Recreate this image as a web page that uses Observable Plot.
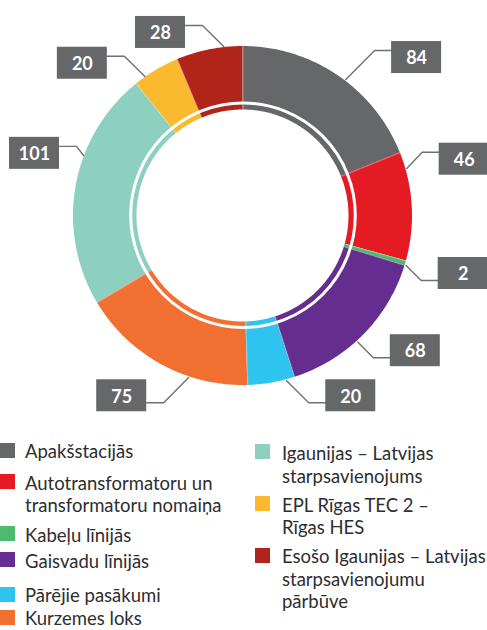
<!DOCTYPE html>
<html><head><meta charset="utf-8">
<script src="https://cdn.jsdelivr.net/npm/d3@7"></script>
<script src="https://cdn.jsdelivr.net/npm/@observablehq/plot@0.6"></script>
<style>
body{margin:0;background:#fff;}
#wrap{position:relative;width:487px;height:630px;overflow:hidden;font-family:Lato,"Noto Sans",sans-serif;}
#chart{position:absolute;left:0;top:0;}
.item{position:absolute;font-size:18.5px;line-height:22.5px;color:#2e2e2e;white-space:nowrap;}
.sw{position:absolute;width:15px;height:15px;}
</style></head><body><div id="wrap"><div id="chart"></div></div>
<script>
// ---- data ----
const categories = [
  "Apakšstacijās",
  "Autotransformatoru un\ntransformatoru nomaiņa",
  "Kabeļu līnijās",
  "Gaisvadu līnijās",
  "Pārējie pasākumi",
  "Kurzemes loks",
  "Igaunijas – Latvijas\nstarpsavienojums",
  "EPL Rīgas TEC 2 –\nRīgas HES",
  "Esošo Igaunijas – Latvijas\nstarpsavienojumu\npārbūve"
];
const values = [84, 46, 2, 68, 20, 75, 101, 20, 28];
const colors = ["#666769", "#e41b23", "#4dba6e", "#652d90", "#2fc3f0", "#f26f32", "#8ed0c0", "#fbb92f", "#b1241a"];

// ---- layout (callouts & legend) ----
const W = 487, H = 430;
const cx = 242.5, cy = 215.5, R = 169.5, r0 = 106;
// leader: start angle on ring, elbow angle, elbow radius (deg / px)
const callouts = [
  [37, 38.5, 211.4],
  [73.8, 70.4, 190.2],
  [106.9, 109.9, 189.5],
  [137.7, 137.4, 192.5],
  [165.2, 160.6, 198],
  [198.6, 203, 202.9],
  [290.8, 292.7, 180.5],
  [324.9, 323.4, 199],
  [353.5, 348, 194.8]
];
const legendCol = [0, 0, 0, 0, 0, 0, 1, 1, 1];
const legendCenter = [451.7, 483, 535, 561, 595.7, 618.6, 453.3, 505, 556.7];

// ---- geometry from data ----
const pie = d3.pie().sort(null).startAngle(0).endAngle(2 * Math.PI)(values);
const pt = (a, r) => ({x: cx + r * Math.sin(a), y: cy - r * Math.cos(a)});
const areaPts = [];
pie.forEach((p, i) => {
  const n = Math.max(2, Math.ceil((p.endAngle - p.startAngle) / 0.01));
  for (let k = 0; k <= n; k++) {
    const a = p.startAngle + (p.endAngle - p.startAngle) * k / n;
    const a1 = pt(a, r0), a2 = pt(a, R);
    areaPts.push({cat: categories[i], x1: a1.x, y1: a1.y, x2: a2.x, y2: a2.y});
  }
});
const seps = pie.map(p => {
  const a = pt(p.startAngle, r0), b = pt(p.startAngle, R);
  return {x1: a.x, y1: a.y, x2: b.x, y2: b.y};
});
const rad = d => d * Math.PI / 180;
const leaders = [], boxes = [];
callouts.forEach(([a0, a1, r1], i) => {
  const s = pt(rad(a0), R + 1), e = pt(rad(a1), r1);
  const right = e.x > cx;
  const hx = right ? e.x + 17 : e.x - 17;
  leaders.push({id: i, x: s.x, y: s.y}, {id: i, x: e.x, y: e.y}, {id: i, x: hx, y: e.y});
  const yc = e.y + (e.y < cy ? 7 : -7);
  const bx1 = right ? hx : hx - 50;
  boxes.push({v: values[i], x1: bx1, x2: bx1 + 50, y1: yc - 16, y2: yc + 16, xc: bx1 + 25, yc});
});

const chart = Plot.plot({
  width: W, height: H, margin: 0,
  x: {domain: [0, W], range: [0, W], axis: null},
  y: {domain: [0, H], range: [0, H], axis: null},
  color: {domain: categories, range: colors},
  marks: [
    Plot.area(areaPts, {x1: "x1", y1: "y1", x2: "x2", y2: "y2", z: "cat", fill: "cat"}),
    Plot.link(seps, {x1: "x1", y1: "y1", x2: "x2", y2: "y2", stroke: "white", strokeWidth: 0.5, strokeOpacity: 0.6}),
    Plot.dot([{x: cx, y: cy - 0.7}], {x: "x", y: "y", r: 112.3, fill: "none", stroke: "white", strokeWidth: 3}),
    Plot.line(leaders, {x: "x", y: "y", z: "id", stroke: "#707173", strokeWidth: 1.4}),
    Plot.rect(boxes, {x1: "x1", x2: "x2", y1: "y1", y2: "y2", fill: "#666769"}),
    Plot.text(boxes, {x: "xc", y: "yc", text: d => String(d.v), fill: "white", fontSize: 18, fontWeight: 700, fontFamily: "Lato, sans-serif", dy: 1})
  ]
});
document.getElementById("chart").appendChild(chart);

// ---- legend ----
const wrap = d3.select("#wrap");
categories.forEach((c, i) => {
  const col = legendCol[i];
  const tx = col ? 282 : 25, sx = col ? 255 : 0;
  wrap.append("div").attr("class", "sw")
    .style("left", sx + "px").style("top", (legendCenter[i] - 9) + "px")
    .style("background", colors[i]);
  wrap.append("div").attr("class", "item")
    .style("left", tx + "px").style("top", (legendCenter[i] - 11.25) + "px")
    .html(c.split("\n").join("<br>"));
});
</script></body></html>
